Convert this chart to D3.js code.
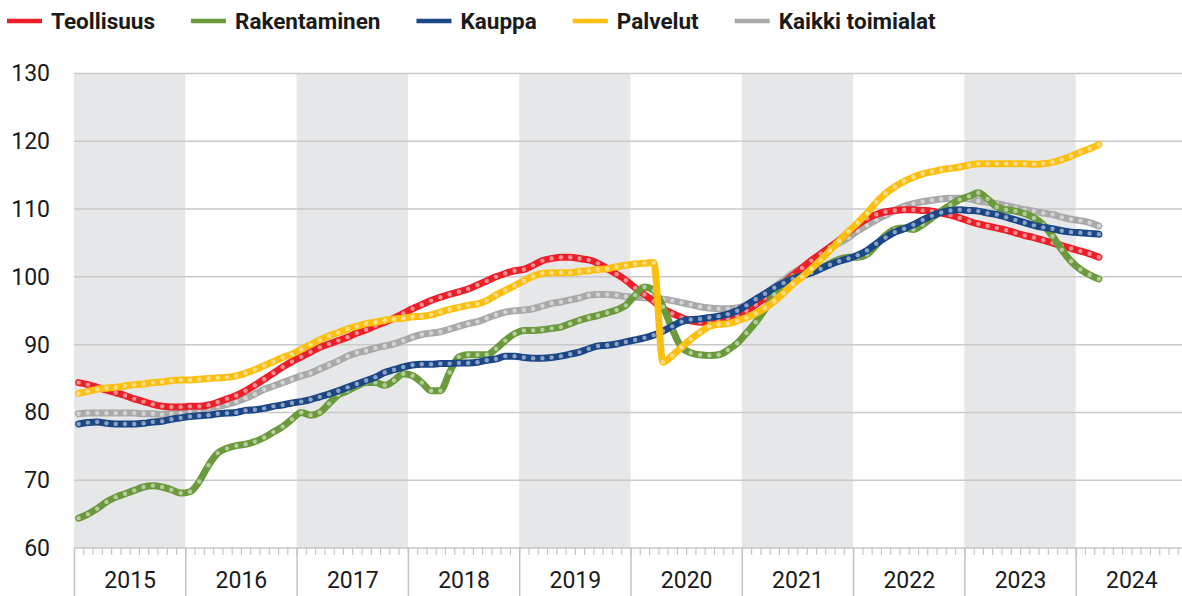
<!DOCTYPE html>
<html>
<head>
<meta charset="utf-8">
<script src="https://cdn.jsdelivr.net/npm/d3@7"></script>
<style>
  body { margin: 0; background: #fff; }
  svg text { font-family: Roboto, "Liberation Sans", sans-serif; fill: #1a1a1a; }
</style>
</head>
<body>
<div id="chart"></div>
<script>
// monthly index values, Jan 2015 - Mar 2024
const years = ['2015', '2016', '2017', '2018', '2019', '2020', '2021', '2022', '2023', '2024'];
const yTicks = [60, 70, 80, 90, 100, 110, 120, 130];
const seriesNames = ['Teollisuus', 'Rakentaminen', 'Kauppa', 'Palvelut', 'Kaikki toimialat'];

const teollisuus = [
  84.4, 84.1, 83.7, 83.3, 82.9, 82.5, 82.0, 81.6, 81.2, 80.9, 80.8, 80.8,
  80.9, 80.9, 81.1, 81.5, 82.0, 82.5, 83.2, 84.0, 84.9, 85.8, 86.7, 87.5,
  88.2, 88.9, 89.6, 90.1, 90.6, 91.1, 91.7, 92.2, 92.8, 93.3, 93.9, 94.6,
  95.3, 95.9, 96.5, 97.0, 97.4, 97.8, 98.2, 98.8, 99.4, 100.0, 100.5, 100.9,
  101.1, 101.7, 102.4, 102.7, 102.9, 102.9, 102.7, 102.5, 102.0, 101.2, 100.4, 99.5,
  98.4, 97.4, 96.4, 95.3, 94.6, 94.0, 93.5, 93.3, 93.3, 93.5, 93.9, 94.3,
  95.0, 95.9, 96.9, 98.0, 99.1, 100.2, 101.3, 102.4, 103.4, 104.4, 105.4, 106.6,
  107.7, 108.6, 109.2, 109.6, 109.8, 109.9, 109.9, 109.8, 109.7, 109.4, 109.1, 108.7,
  108.2, 107.8, 107.5, 107.2, 106.9, 106.5, 106.1, 105.8, 105.4, 105.0, 104.6, 104.2,
  103.8, 103.4, 102.9
];
const rakentaminen = [
  64.4, 65.0, 65.8, 66.8, 67.5, 68.0, 68.5, 69.0, 69.2, 69.0, 68.6, 68.1,
  68.3, 69.8, 72.2, 74.0, 74.7, 75.1, 75.3, 75.7, 76.3, 77.1, 77.9, 79.0,
  80.0, 79.6, 80.0, 81.3, 82.6, 83.2, 83.9, 84.4, 84.4, 84.0, 84.7, 85.7,
  85.4, 84.4, 83.2, 83.2, 85.9, 88.2, 88.5, 88.5, 88.5, 89.4, 90.6, 91.6,
  92.1, 92.1, 92.2, 92.4, 92.6, 93.1, 93.6, 94.0, 94.3, 94.7, 95.1, 95.8,
  97.3, 98.5, 98.0, 95.6, 92.3, 89.6, 88.8, 88.5, 88.4, 88.5, 89.2, 90.2,
  91.7, 93.3, 95.2, 97.4, 99.0, 99.8, 100.2, 100.6, 101.2, 102.0, 102.6, 102.9,
  102.9, 103.3, 104.7, 106.1, 107.0, 107.2, 107.0, 107.7, 108.7, 109.7, 110.6, 111.4,
  111.9, 112.4, 111.5, 110.3, 109.9, 109.7, 109.3, 108.7, 107.7, 106.0, 104.0, 102.3,
  101.1, 100.3, 99.7
];
const kauppa = [
  78.3, 78.5, 78.6, 78.4, 78.3, 78.3, 78.3, 78.4, 78.6, 78.7, 79.0, 79.2,
  79.4, 79.5, 79.6, 79.8, 79.9, 80.0, 80.3, 80.4, 80.6, 80.9, 81.1, 81.4,
  81.6, 81.9, 82.3, 82.7, 83.2, 83.7, 84.2, 84.7, 85.2, 85.9, 86.3, 86.7,
  87.0, 87.1, 87.1, 87.2, 87.2, 87.3, 87.3, 87.4, 87.7, 87.9, 88.3, 88.3,
  88.1, 88.0, 88.0, 88.1, 88.3, 88.6, 88.9, 89.4, 89.8, 89.9, 90.1, 90.4,
  90.7, 91.0, 91.4, 92.0, 92.7, 93.4, 93.7, 93.8, 94.0, 94.2, 94.5, 95.0,
  95.8, 96.7, 97.5, 98.4, 99.1, 99.7, 100.2, 100.6, 101.2, 101.8, 102.3, 102.7,
  103.2, 103.9, 104.9, 105.8, 106.6, 107.1, 107.7, 108.4, 109.0, 109.5, 109.8, 109.9,
  109.8, 109.7, 109.4, 109.2, 108.8, 108.4, 108.0, 107.6, 107.3, 107.1, 106.8, 106.6,
  106.5, 106.4, 106.3
];
const palvelut = [
  82.8, 83.1, 83.4, 83.6, 83.7, 83.9, 84.1, 84.2, 84.4, 84.5, 84.7, 84.8,
  84.8, 84.9, 85.0, 85.1, 85.2, 85.4, 85.8, 86.3, 86.9, 87.5, 88.1, 88.6,
  89.3, 90.0, 90.7, 91.3, 91.8, 92.3, 92.7, 93.1, 93.3, 93.6, 93.8, 93.9,
  94.1, 94.2, 94.4, 94.8, 95.2, 95.5, 95.8, 96.0, 96.5, 97.3, 98.0, 98.7,
  99.4, 100.1, 100.5, 100.6, 100.6, 100.6, 100.8, 100.9, 101.1, 101.2, 101.5, 101.7,
  101.9, 102.0, 102.1, 87.4, 88.4, 89.6, 90.8, 91.8, 92.7, 93.0, 93.1, 93.5,
  94.0, 94.6, 95.4, 96.4, 97.6, 98.9, 100.0, 101.2, 102.5, 103.9, 105.3, 106.7,
  108.0, 109.4, 111.0, 112.3, 113.3, 114.1, 114.7, 115.2, 115.5, 115.8, 116.0, 116.2,
  116.5, 116.7, 116.7, 116.7, 116.7, 116.7, 116.7, 116.6, 116.7, 116.9, 117.3, 117.8,
  118.4, 118.9, 119.5
];
const kaikki = [
  79.8, 79.9, 79.9, 79.9, 79.9, 79.9, 79.9, 79.8, 79.8, 79.7, 79.8, 79.9,
  80.1, 80.4, 80.7, 80.9, 81.2, 81.6, 82.1, 82.7, 83.4, 83.9, 84.4, 84.9,
  85.4, 85.8, 86.4, 87.0, 87.6, 88.3, 88.8, 89.1, 89.5, 89.8, 90.1, 90.6,
  91.1, 91.5, 91.7, 91.9, 92.3, 92.7, 93.1, 93.4, 93.9, 94.4, 94.8, 95.0,
  95.1, 95.3, 95.7, 96.1, 96.3, 96.6, 96.9, 97.3, 97.4, 97.4, 97.3, 97.1,
  97.0, 96.9, 96.8, 96.7, 96.5, 96.2, 95.9, 95.6, 95.4, 95.3, 95.3, 95.4,
  95.9, 96.6, 97.5, 98.5, 99.5, 100.5, 101.4, 102.4, 103.4, 104.3, 105.0, 105.8,
  106.8, 107.6, 108.4, 109.1, 109.8, 110.4, 110.8, 111.1, 111.3, 111.5, 111.6, 111.6,
  111.5, 111.2, 111.0, 110.8, 110.5, 110.2, 109.9, 109.7, 109.4, 109.2, 108.8, 108.5,
  108.3, 108.0, 107.5
];

const seriesValues = [teollisuus, rakentaminen, kauppa, palvelut, kaikki];
const colors = ['#ec1f28', '#6a9a3b', '#1b4786', '#fdbf0f', '#a9a9a9'];
const drawOrder = [4, 0, 1, 2, 3];

const width = 1182, height = 596;
const plotLeft = 74;

const svg = d3.select('#chart')
  .append('svg')
  .attr('width', width)
  .attr('height', height);

const x = d3.scaleLinear()
  .domain([0, years.length * 12])
  .range([plotLeft, 1187]);

const y = d3.scaleLinear()
  .domain([60, 130])
  .range([548, 73.5]);

// alternating year bands
svg.append('g')
  .selectAll('rect')
  .data(years.filter((d, k) => k % 2 === 0))
  .enter()
  .append('rect')
  .attr('x', d => x(years.indexOf(d) * 12))
  .attr('y', y(130))
  .attr('width', d => x(years.indexOf(d) * 12 + 12) - x(years.indexOf(d) * 12))
  .attr('height', y(60) - y(130))
  .attr('fill', '#e6e7e9');

// horizontal gridlines
svg.append('g')
  .selectAll('line')
  .data(yTicks)
  .enter()
  .append('line')
  .attr('x1', plotLeft)
  .attr('x2', width)
  .attr('y1', d => y(d))
  .attr('y2', d => y(d))
  .attr('stroke', '#c9c9c9')
  .attr('stroke-width', 1.5);

// y axis labels
const yAxis = svg.append('g')
  .attr('transform', `translate(${plotLeft}, 0)`)
  .call(d3.axisLeft(y).tickValues(yTicks).tickSize(0).tickPadding(24));
yAxis.select('.domain').remove();
yAxis.selectAll('text').attr('font-size', 23).attr('fill', '#1a1a1a');

// x axis: month ticks, year separators, year labels
const monthTicks = svg.append('g')
  .attr('transform', `translate(0, ${y(60)})`)
  .call(d3.axisBottom(x).tickValues(d3.range(0, years.length * 12 + 1)).tickSize(7).tickFormat(''));
monthTicks.select('.domain').remove();
monthTicks.selectAll('line').attr('stroke', '#c4c4c4').attr('stroke-width', 1.2);

const yearTicks = svg.append('g')
  .attr('transform', `translate(0, ${y(60)})`)
  .call(d3.axisBottom(x).tickValues(d3.range(0, years.length * 12 + 1, 12)).tickSize(50).tickFormat(''));
yearTicks.select('.domain').remove();
yearTicks.selectAll('line').attr('stroke', '#c4c4c4').attr('stroke-width', 1.5);

const xLabels = svg.append('g')
  .attr('transform', `translate(0, ${y(60)})`)
  .call(d3.axisBottom(x)
    .tickValues(years.map((d, k) => k * 12 + 6))
    .tickSize(0)
    .tickPadding(24)
    .tickFormat((d, k) => years[k]));
xLabels.select('.domain').remove();
xLabels.selectAll('text').attr('font-size', 23).attr('fill', '#1a1a1a');

// series lines with monthly dots
const line = d3.line()
  .x((d, i) => x(i + 0.5))
  .y(d => y(d))
  .curve(d3.curveMonotoneX);

drawOrder.forEach(s => {
  const g = svg.append('g');
  g.append('path')
    .datum(seriesValues[s])
    .attr('d', line)
    .attr('fill', 'none')
    .attr('stroke', colors[s])
    .attr('stroke-width', 7)
    .attr('stroke-linecap', 'round')
    .attr('stroke-linejoin', 'round');
  g.selectAll('circle')
    .data(seriesValues[s])
    .enter()
    .append('circle')
    .attr('cx', (d, i) => x(i + 0.5))
    .attr('cy', d => y(d))
    .attr('r', 2.2)
    .attr('fill', '#fff')
    .attr('fill-opacity', 0.5);
});

// legend
const legend = svg.append('g').attr('transform', 'translate(0, 21)');
let lx = 7;
seriesNames.forEach((name, s) => {
  legend.append('line')
    .attr('x1', lx)
    .attr('x2', lx + 35)
    .attr('stroke', colors[s])
    .attr('stroke-width', 4.5);
  const t = legend.append('text')
    .attr('x', lx + 44)
    .attr('dy', '0.36em')
    .attr('font-size', 22.5)
    .attr('font-weight', 700)
    .text(name);
  lx += 44 + t.node().getComputedTextLength() + 36;
});
</script>
</body>
</html>
